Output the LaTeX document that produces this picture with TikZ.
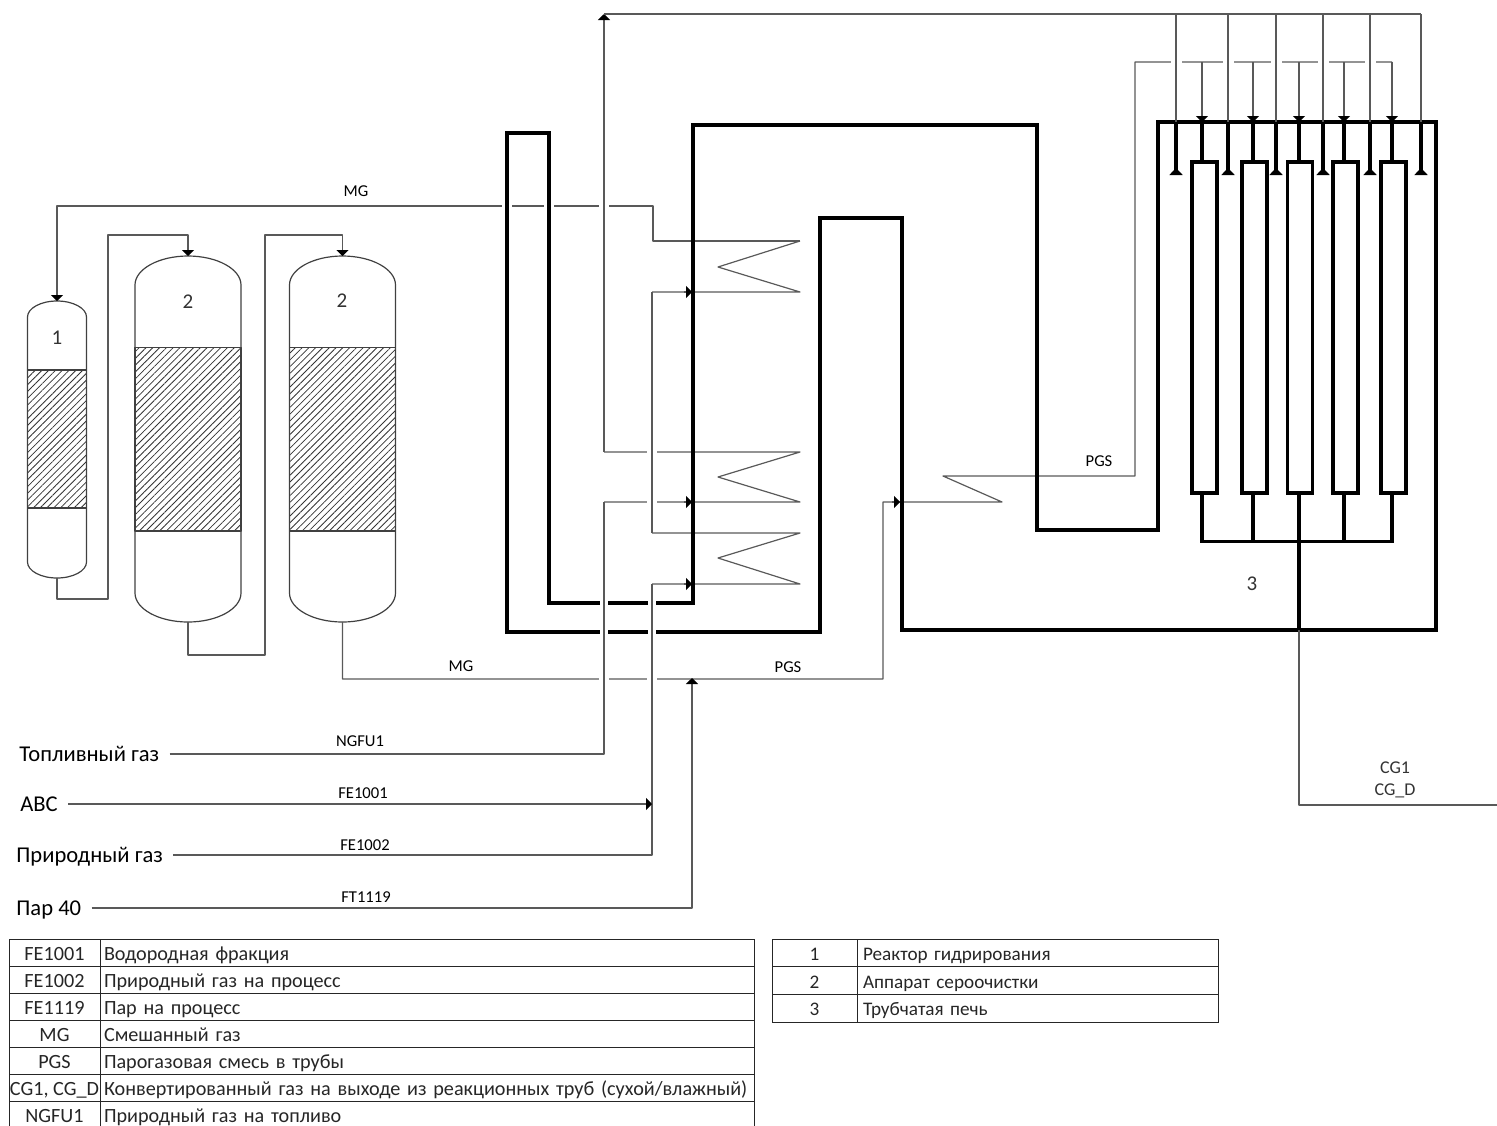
\documentclass[tikz,border=0pt]{standalone}
\usepackage{fontspec}
\setmainfont{Carlito}
\usetikzlibrary{arrows.meta,patterns.meta,calc}

\begin{document}
\begin{tikzpicture}[font=\fontsize{8.3}{9}\selectfont,>={Triangle[length=3pt,width=6pt,color=black]},x=0.5pt,y=-0.5pt,
  pipe/.style={draw=black!65,line width=0.6pt,line join=round},
  flue/.style={draw=black,line width=1.7pt},
  gapw/.style={fill=white,draw=none},
  pk/.style={pipe,draw=black!75,pattern={Lines[angle=45,distance=2.4pt,line width=0.4pt]},pattern color=black!80},
  tb/.style={flue,fill=white,minimum width=12.5pt,minimum height=165.5pt,inner sep=0pt,outer sep=0pt},
  big/.style={font=\fontsize{11.3}{13}\selectfont,anchor=west,inner xsep=5pt,inner ysep=0pt,text height=9.5pt,text depth=2.5pt},
  num/.style={font=\fontsize{10.5}{12}\selectfont,text=black!80},
  kc/.style={draw=black!85,line width=0.5pt,anchor=north west,inner sep=0pt,outer sep=0pt,font=\fontsize{10.1}{11}\selectfont,text=black!85,text height=8.5pt,text depth=1pt},
  vc/.style={kc,align=left,inner xsep=2pt}]
  \clip[use as bounding box] (0,0) rectangle (1497,1125);
  % точки змеевиков
  \coordinate (c1a) at (800,241); \coordinate (c1b) at (718,267); \coordinate (c1c) at (800,292);
  \coordinate (c2a) at (800,452); \coordinate (c2b) at (718,477); \coordinate (c2c) at (800,502);
  \coordinate (c3a) at (800,533); \coordinate (c3b) at (718,558); \coordinate (c3c) at (800,584);
  \coordinate (c4a) at (1002,502); \coordinate (c4b) at (943,476);
  \coordinate (ma) at (653,241); \coordinate (mb) at (653,206);
  \coordinate (fa) at (604,502); \coordinate (fb) at (604,452); \coordinate (fc) at (604,14);
  \coordinate (ga) at (652,292); \coordinate (gb) at (652,533); \coordinate (gc) at (652,584);
  \coordinate (pa) at (883,679); \coordinate (pb) at (1135,476); \coordinate (pc) at (1135,62);
  \coordinate (a1) at (692,292); \coordinate (a2) at (692,502); \coordinate (a3) at (692,584);
  \coordinate (a4) at (692,678); \coordinate (a5) at (900,502);
  \coordinate (top) at (1421,14); \coordinate (cl) at (1299,541.5); \coordinate (ho) at (1299,630); \coordinate (out) at (1497,805);
  % аппараты
  \foreach \v/\xc/\w/\yt/\yb/\d/\ya/\yc in {1/57/29.5/301/578/16/370/508,a/188/53/256/622/29/347.5/531,b/342.5/53/256/622/29/347.5/531}{
    \draw[pk] (\xc-\w,\ya) rectangle (\xc+\w,\yc);
    \draw[pipe,draw=black!75] (\xc-\w,\yt+\d) .. controls (\xc-\w,\yt+0.45*\d) and (\xc-0.55*\w,\yt) .. (\xc,\yt)
      .. controls (\xc+0.55*\w,\yt) and (\xc+\w,\yt+0.45*\d) .. (\xc+\w,\yt+\d) -- (\xc+\w,\yb-\d)
      .. controls (\xc+\w,\yb-0.45*\d) and (\xc+0.55*\w,\yb) .. (\xc,\yb)
      .. controls (\xc-0.55*\w,\yb) and (\xc-\w,\yb-0.45*\d) .. (\xc-\w,\yb-\d) -- cycle;
    \coordinate (v\v-t) at (\xc,\yt);
    \coordinate (v\v-b) at (\xc,\yb);
  }
  \node[num] (n1) at (57,338) {1};
  \node[num] (n2a) at (188,302) {2};
  \node[num] (n2b) at (342,301) {2};
  \node[num] (n3) at (1252,584) {3};
  % горелки и трубы
  \foreach \n/\xa in {1/1176,2/1228,3/1276,4/1323,5/1370,6/1421}{
    \coordinate (br\n) at (\xa,122);
  }
  \foreach \n/\xa/\xb in {1/1204.5/1202,2/1254.5/1253,3/1300/1299,4/1345.5/1344,5/1393.5/1392}{
    \node[tb] (tb\n) at (\xa,327.5) {};
    \coordinate (st\n) at (\xb,122);
  }
  % линии под разрывами
  \draw[pipe,->] (c1a) -- (ma) -- (mb) -| (v1-t);
  \draw[pipe] (ga) -- (c1c) -- (c1b) -- (c1a);
  \draw[pipe] (fa) -- (c2c) -- (c2b) -- (c2a) -- (fb);
  \draw[pipe] (gc) -- (c3c) -- (c3b) -- (c3a) -- (gb);
  \draw[pipe] (vb-b) |- (pa) |- (c4a) -- (c4b) -- (pb) -- (pc) -- (st5 |- pc);
  \foreach \xa/\ya in {507/206,549/206,604/206,652/452,652/502,604/679,652/679}{
    \fill[gapw] (\xa-5,\ya-2) rectangle (\xa+5,\ya+2);
  }
  \foreach \n in {1,...,5}{
    \fill[gapw] ($(br\n |- pc)+(-5.5,-2)$) rectangle ($(br\n |- pc)+(5.5,2)$);
  }
  % дымовой тракт
  \draw[flue] (507,133) -- (507,632) -- (820,632) -- (820,218) -- (902,218) -- (902,630) -- (1436,630) -- (1436,122) -- (1158,122)
    -- (1158,530) -- (1037,530) -- (1037,125) -- (693,125) -- (693,603) -- (549,603) -- (549,133) -- cycle;
  \foreach \xa/\ya in {604/603,652/603,604/632,652/632}{
    \fill[gapw] (\xa-4,\ya-3) rectangle (\xa+4,\ya+3);
  }
  % входы слева
  \node[big] (lfuel) at (9,754) {Топливный газ};
  \node[big] (labc) at (10,804) {АВС};
  \node[big] (lng) at (6,855) {Природный газ};
  \node[big] (lsteam) at (6,908) {Пар 40};
  \draw[pipe] (lfuel.east) -| (fa);
  \draw[pipe,->] (fb) -- (fc);
  \draw[pipe] (fc) -- (top);
  \draw[pipe] (lng.east) -| (gc);
  \draw[pipe] (gb) -- (ga);
  \draw[pipe,->] (labc.east) -- (labc.east -| gc);
  \draw[pipe,->] (lsteam.east) -| (a4);
  % обвязка аппаратов
  \draw[pipe,->] (v1-b) |- (108,599) |- (188,235) -- (va-t);
  \draw[pipe,->] (va-b) |- (265,655) |- (342.5,235) -- (vb-t);
  \foreach \p in {a1,a2,a3,a5}{
    \draw[pipe,->] ($(\p)+(-8,0)$) -- (\p);
  }
  % печь
  \foreach \n in {1,...,6}{
    \draw[pipe] (top -| br\n) -- (br\n);
    \draw[flue,-{Triangle[reversed,length=3.5pt,width=6.5pt]}] (br\n) -- ++(0,53);
  }
  \foreach \n in {1,...,5}{
    \draw[pipe,->] (st\n |- pc) -- (st\n);
    \draw[flue] (st\n) -- (st\n |- tb\n.north);
    \draw[flue] (st\n |- tb\n.south) -- (st\n |- cl);
  }
  \draw[flue,line cap=rect] (st1 |- cl) -- (st5 |- cl);
  \draw[flue] (cl) -- (ho);
  \draw[pipe] (ho) |- (out);
  % подписи потоков
  \node (mg1) at (356,191) {MG};
  \node (mg2) at (461,666) {MG};
  \node (pg1) at (788,667) {PGS};
  \node (pg2) at (1099,461) {PGS};
  \node (tn1) at (360,741) {NGFU1};
  \node (tn2) at (363,793) {FE1001};
  \node (tn3) at (365,845) {FE1002};
  \node (tn4) at (366,897) {FT1119};
  \node[num,font=\fontsize{9}{10}\selectfont] (cg1) at (1395,768) {CG1};
  \node[num,font=\fontsize{9}{10}\selectfont] (cg2) at (1395,791) {CG\_D};
  % таблицы
  \foreach \n/\k/\t in {0/FE1001/Водородная фракция,1/FE1002/Природный газ на процесс,2/FE1119/Пар на процесс,3/MG/Смешанный газ,4/PGS/Парогазовая смесь в трубы,5/{CG1, CG\_D}/{Конвертированный газ на выходе из реакционных труб (сухой/влажный)},6/NGFU1/Природный газ на топливо}{
    \node[kc,minimum width=45.5pt,minimum height=13.5pt] (ka\n) at (9,{939+27*\n}) {\k};
    \node[vc,text width=323pt,minimum height=13.5pt] (va\n) at (100,{939+27*\n}) {\t};
  }
  \foreach \n/\k/\t in {0/1/Реактор гидрирования,1/2/Аппарат сероочистки,2/3/Трубчатая печь}{
    \node[kc,minimum width=42.5pt,minimum height=13.85pt,font=\fontsize{9.6}{11}\selectfont] (kb\n) at (772,{939+27.7*\n}) {\k};
    \node[vc,inner xsep=3pt,text width=174.5pt,minimum height=13.85pt,font=\fontsize{9.6}{11}\selectfont] (vb\n) at (857,{939+27.7*\n}) {\t};
  }
\end{tikzpicture}
\end{document}
